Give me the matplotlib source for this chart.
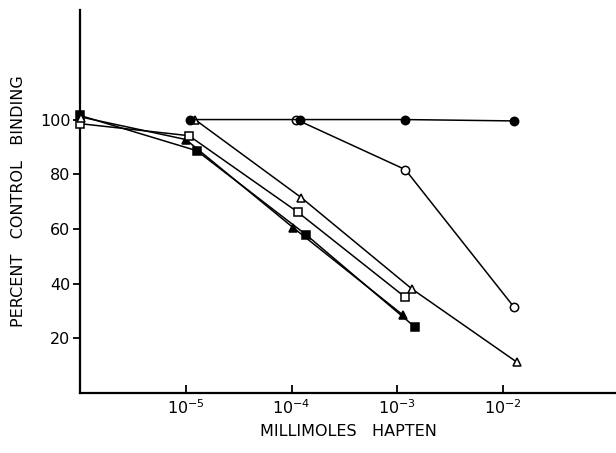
import matplotlib
matplotlib.use("Agg")
from matplotlib import pyplot as plt

# millimoles hapten vs percent control binding
filled_circle_x = [1.09e-5, 1.19e-4, 1.19e-3, 1.27e-2]
filled_circle_y = [100, 100, 100, 99.5]

open_circle_x = [1.11e-4, 1.19e-3, 1.27e-2]
open_circle_y = [100, 81.7, 31.4]

open_tri_x = [1.22e-5, 1.24e-4, 1.38e-3, 1.36e-2]
open_tri_y = [100, 71.4, 38, 11.2]

open_sq_x = [1e-6, 1.07e-5, 1.14e-4, 1.19e-3]
open_sq_y = [98.5, 94.1, 66.2, 35]

filled_tri_x = [1e-6, 1e-5, 1.04e-4, 1.14e-3]
filled_tri_y = [101, 92.7, 60.4, 28.4]

filled_sq_x = [1e-6, 1.27e-5, 1.38e-4, 1.48e-3]
filled_sq_y = [101.5, 88.6, 57.8, 24]

# lone open triangle sitting on the axis at the start
start_tri_x = [1.02e-6]
start_tri_y = [100.5]

xticks = [1e-5, 1e-4, 1e-3, 1e-2]
xtick_labels = [r"$10^{-5}$", r"$10^{-4}$", r"$10^{-3}$", r"$10^{-2}$"]
yticks = [20, 40, 60, 80, 100]

fig = plt.figure(figsize=(6.16, 4.53), dpi=100)
ax = fig.add_axes([0.13, 0.1325, 0.87, 0.845])

style = dict(color="black", lw=1.1, ms=6, mew=1.1, clip_on=False, zorder=3)
ax.plot(filled_sq_x, filled_sq_y, marker="s", mfc="black", mec="black", **style)
ax.plot(filled_tri_x, filled_tri_y, marker="^", mfc="black", mec="black", **style)
ax.plot(open_sq_x, open_sq_y, marker="s", mfc="white", mec="black", **style)
ax.plot(open_tri_x, open_tri_y, marker="^", mfc="white", mec="black", **style)
ax.plot(open_circle_x, open_circle_y, marker="o", mfc="white", mec="black", **style)
ax.plot(filled_circle_x, filled_circle_y, marker="o", mfc="black", mec="black", **style)
ax.plot(start_tri_x, start_tri_y, ls="none", marker="^", mfc="white", mec="black",
        ms=6, mew=1.1, clip_on=False, zorder=4)

ax.set_xscale("log")
ax.set_xlim(1e-6, 1.17e-1)
ax.set_ylim(0, 140)

ax.spines["top"].set_visible(False)
ax.spines["right"].set_visible(False)
ax.spines["left"].set_linewidth(1.6)
ax.spines["bottom"].set_linewidth(1.6)

ax.set_xticks(xticks)
ax.set_xticklabels(xtick_labels)
ax.xaxis.set_minor_locator(plt.NullLocator())
ax.set_yticks(yticks)
ax.tick_params(axis="x", direction="in", length=6, width=1.3, labelsize=11.5, pad=4)
ax.tick_params(axis="y", direction="out", length=5, width=1.3, labelsize=11.5, pad=2)

ax.set_xlabel("MILLIMOLES   HAPTEN", fontsize=11.5, labelpad=5)
ax.set_ylabel("PERCENT   CONTROL   BINDING", fontsize=11.5)
ax.yaxis.set_label_coords(-0.1, 0.5)

plt.savefig("out.png", dpi=100)
